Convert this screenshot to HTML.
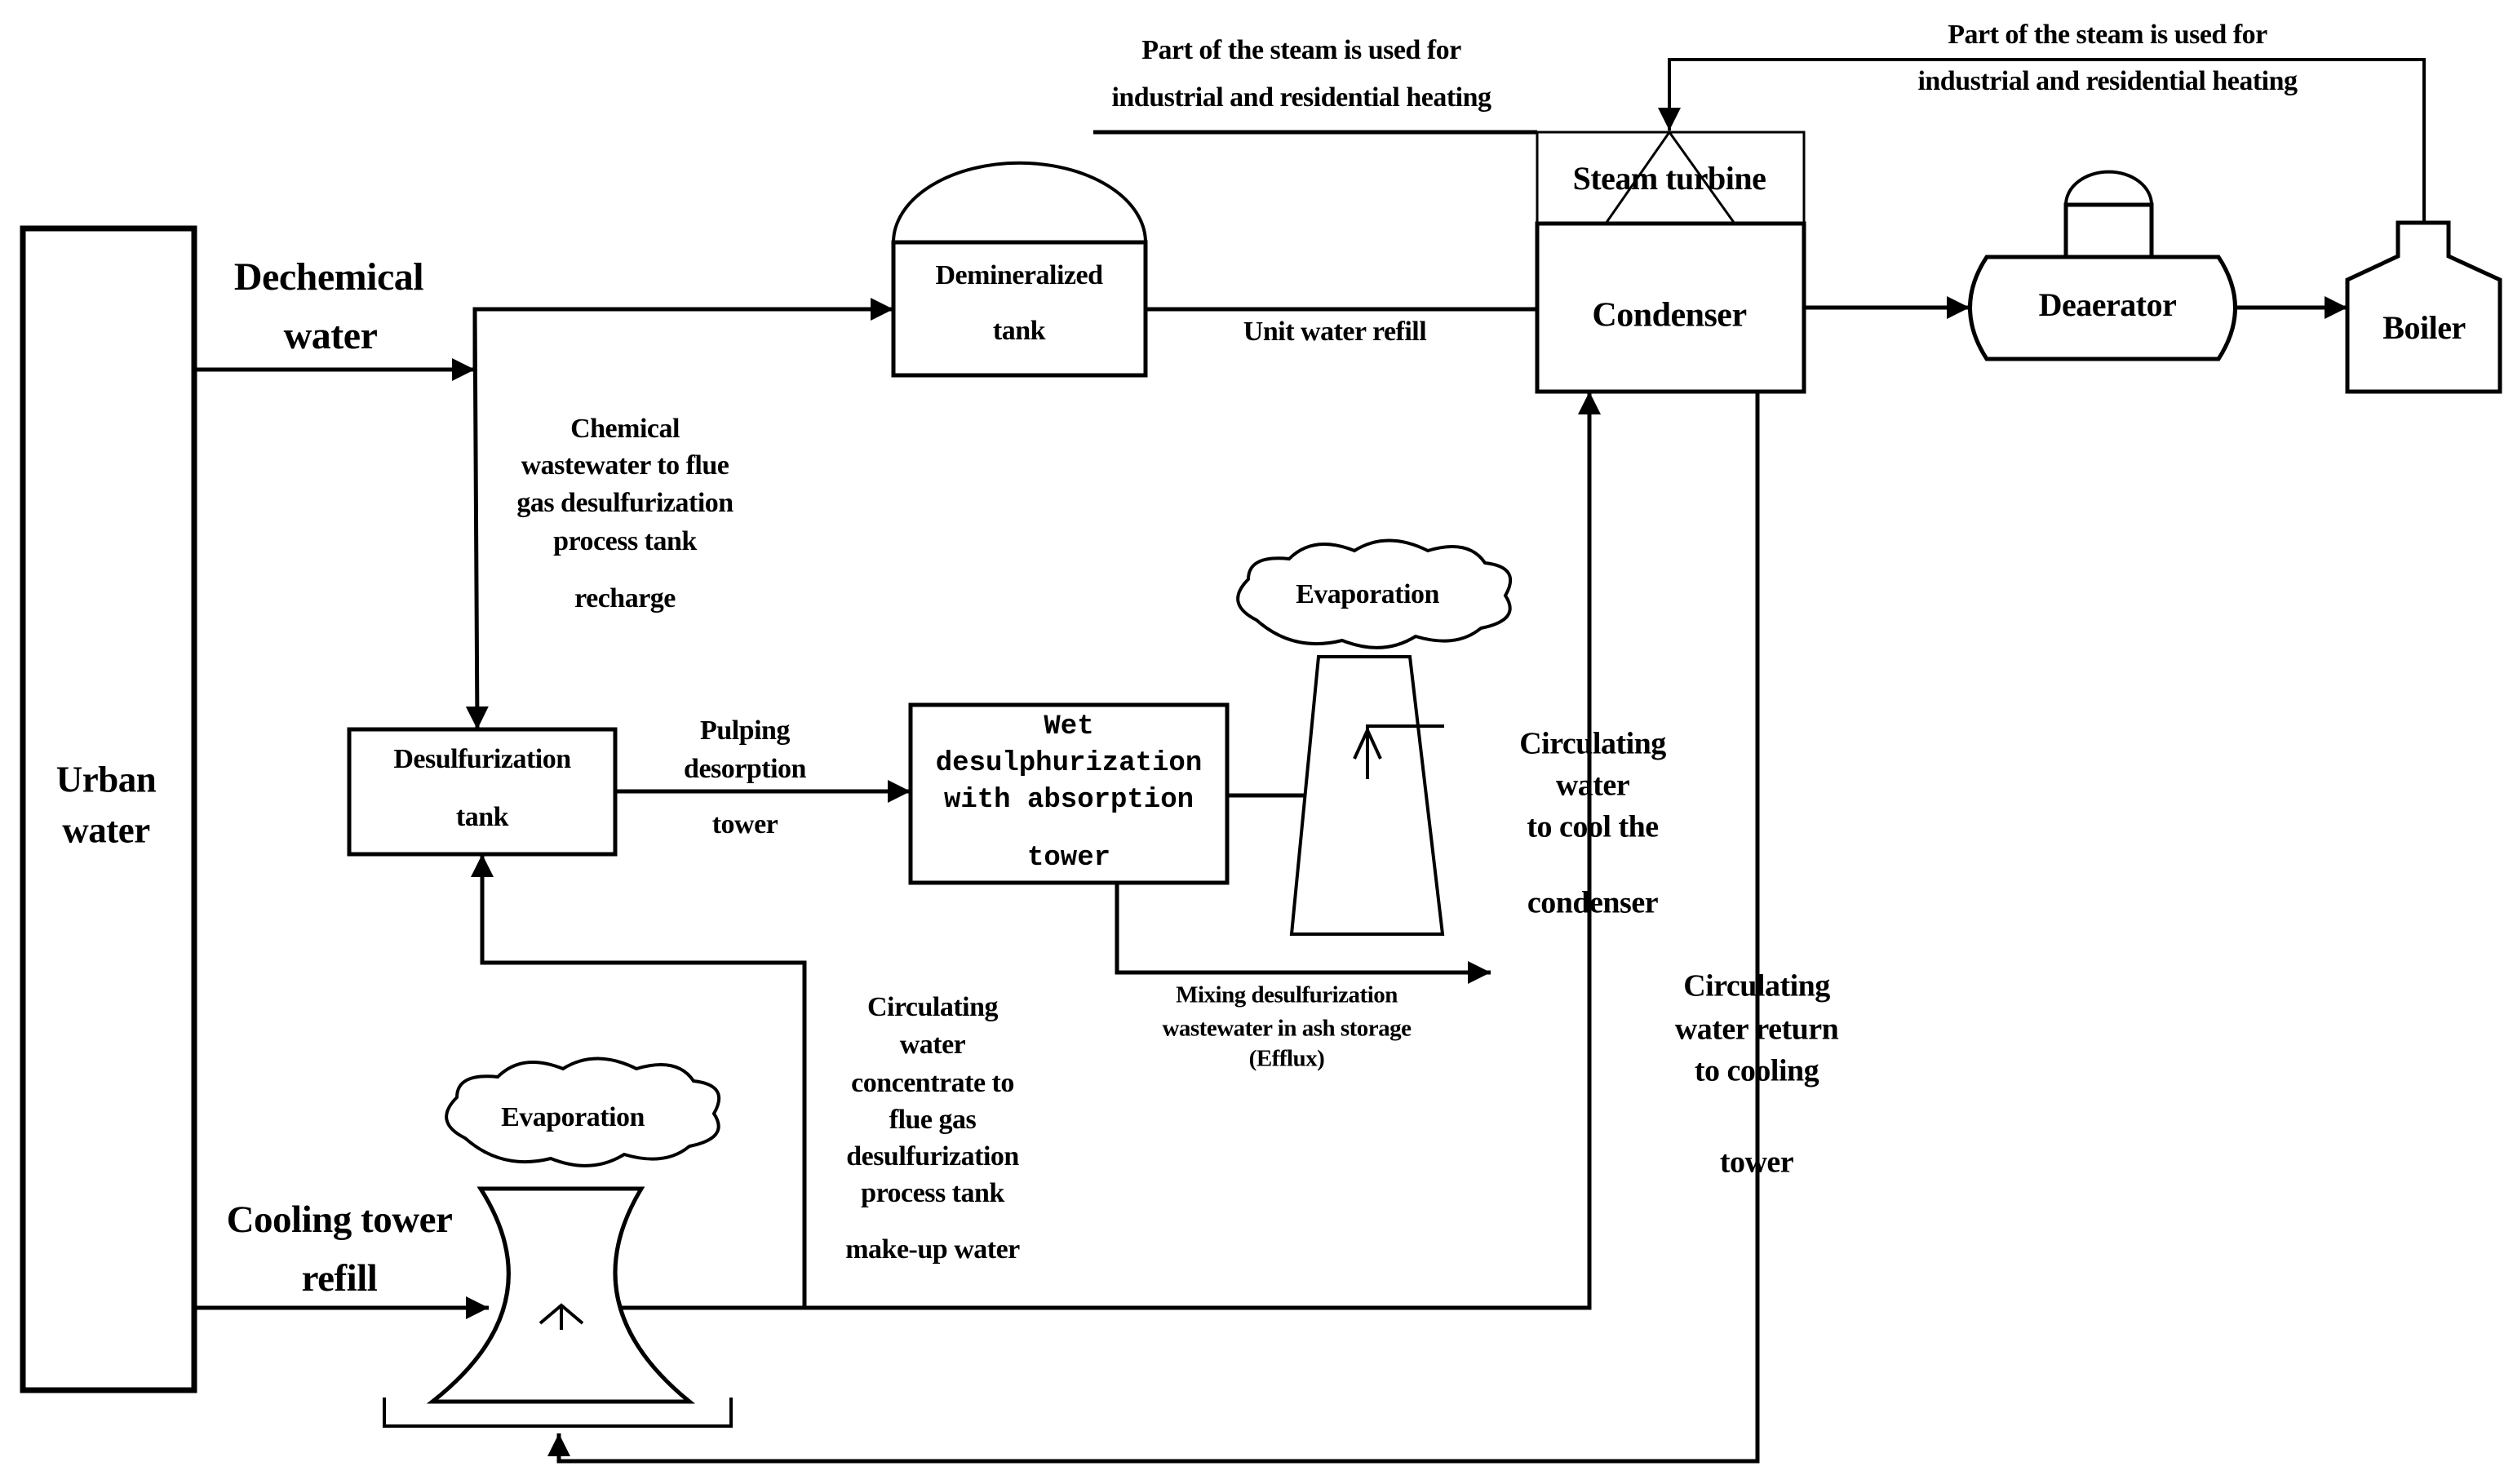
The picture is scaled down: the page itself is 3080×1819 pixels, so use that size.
<!DOCTYPE html>
<html><head><meta charset="utf-8"><style>
html,body{margin:0;padding:0;background:#fff}
svg{display:block}
text{font-family:"Liberation Serif",serif;font-weight:bold;fill:#000;text-anchor:middle;dominant-baseline:middle;letter-spacing:-0.5px}
.m{font-family:"Liberation Mono",monospace;letter-spacing:0}
</style></head><body>
<svg width="3080" height="1819" viewBox="0 0 3080 1819" xmlns="http://www.w3.org/2000/svg">
<defs>
<marker id="A" viewBox="0 0 10 10" refX="10" refY="5" markerWidth="32" markerHeight="28" orient="auto" markerUnits="userSpaceOnUse"><path d="M0,0 L10,5 L0,10 z" fill="#000"/></marker>
</defs>
<g fill="none" stroke="#000" stroke-width="5">
<rect x="28" y="280" width="210" height="1424" stroke-width="7"/>
<line x1="240" y1="453" x2="582" y2="453" marker-end="url(#A)"/>
<polyline points="582,453 582,379 1095,379" marker-end="url(#A)"/>
<line x1="582" y1="379" x2="585" y2="894" marker-end="url(#A)"/>
<rect x="1095" y="297" width="309" height="163"/>
<path d="M1095,297 A154,97 0 0 1 1404,297" stroke-width="4"/>
<line x1="1404" y1="379" x2="1884" y2="379"/>
<line x1="1340" y1="162" x2="1884" y2="162"/>
<rect x="1884" y="162" width="327" height="112" stroke-width="3"/>
<polyline points="1968,274 2046,162 2126,274" stroke-width="3"/>
<rect x="1884" y="274" width="327" height="206"/>
<polyline points="2971,273 2971,73 2046,73 2046,160" stroke-width="4" marker-end="url(#A)"/>
<line x1="2211" y1="377" x2="2414" y2="377" marker-end="url(#A)"/>
<path d="M2435,315 L2719,315 Q2760,377 2719,440 L2435,440 Q2394,377 2435,315 z"/>
<rect x="2532" y="251" width="105" height="64"/>
<path d="M2532,251 A52,40 0 0 1 2637,251" stroke-width="4"/>
<line x1="2740" y1="377" x2="2877" y2="377" marker-end="url(#A)"/>
<path d="M2939,273 L3001,273 L3001,314 L3064,343 L3064,480 L2877,480 L2877,343 L2939,314 z"/>
<rect x="428" y="894" width="326" height="153"/>
<line x1="754" y1="970" x2="1116" y2="970" marker-end="url(#A)"/>
<rect x="1116" y="864" width="388" height="218"/>
<line x1="1504" y1="975" x2="1600" y2="975"/>
<path d="M1616,805 L1728,805 L1768,1145 L1583,1145 z" stroke-width="4"/>
<polyline points="1770,890 1676,890 1676,955" stroke-width="4"/>
<polyline points="1660,930 1676,895 1692,930" stroke-width="4"/>
<polyline points="1369,1082 1369,1192 1827,1192" marker-end="url(#A)"/>
<path d="M589,1457 L786,1457 Q700,1600 845,1718 L530,1718 Q680,1600 589,1457 z" stroke-width="5"/>
<polyline points="471,1713 471,1748 896,1748 896,1713" stroke-width="4"/>
<polyline points="662,1622 688,1600 714,1622" stroke-width="4"/>
<line x1="688" y1="1600" x2="688" y2="1630" stroke-width="4"/>
<line x1="240" y1="1603" x2="599" y2="1603" marker-end="url(#A)"/>
<polyline points="760,1603 1948,1603 1948,480" marker-end="url(#A)"/>
<polyline points="986,1603 986,1180 591,1180 591,1047" marker-end="url(#A)"/>
<polyline points="2154,480 2154,1791 685,1791 685,1757" marker-end="url(#A)"/>
<path d="M1540,760 q-40,-20 -10,-50 q0,-30 50,-25 q30,-30 80,-10 q40,-25 90,0 q50,-15 70,15 q45,5 25,40 q20,30 -30,40 q-30,25 -80,10 q-40,25 -90,5 q-60,15 -105,-25z" stroke-width="4"/>
<path d="M570,1395 q-40,-20 -10,-50 q0,-30 50,-25 q30,-30 80,-10 q40,-25 90,0 q50,-15 70,15 q45,5 25,40 q20,30 -30,40 q-30,25 -80,10 q-40,25 -90,5 q-60,15 -105,-25z" stroke-width="4"/>
</g>
<g font-size="34">
<text x="130" y="960" font-size="45">Urban</text>
<text x="130" y="1022" font-size="45">water</text>
<text x="403" y="344" font-size="48">Dechemical</text>
<text x="405" y="416" font-size="48">water</text>
<text x="1595" y="64">Part of the steam is used for</text>
<text x="1595" y="122">industrial and residential heating</text>
<text x="2583" y="45">Part of the steam is used for</text>
<text x="2583" y="102">industrial and residential heating</text>
<text x="1249" y="340">Demineralized</text>
<text x="1249" y="408">tank</text>
<text x="1636" y="409">Unit water refill</text>
<text x="2046" y="223" font-size="40">Steam turbine</text>
<text x="2046" y="390" font-size="42">Condenser</text>
<text x="2583" y="378" font-size="40">Deaerator</text>
<text x="2971" y="406" font-size="40">Boiler</text>
<text x="766" y="528">Chemical</text>
<text x="766" y="573">wastewater to flue</text>
<text x="766" y="619">gas desulfurization</text>
<text x="766" y="666">process tank</text>
<text x="766" y="736">recharge</text>
<text x="591" y="933">Desulfurization</text>
<text x="591" y="1004">tank</text>
<text x="913" y="898">Pulping</text>
<text x="913" y="945">desorption</text>
<text x="913" y="1013">tower</text>
<text class="m" x="1310" y="890" font-size="34">Wet</text>
<text class="m" x="1310" y="935" font-size="34">desulphurization</text>
<text class="m" x="1310" y="980" font-size="34">with absorption</text>
<text class="m" x="1310" y="1051" font-size="34">tower</text>
<text x="1676" y="731">Evaporation</text>
<text x="702" y="1372">Evaporation</text>
<text x="1952" y="915" font-size="38">Circulating</text>
<text x="1952" y="966" font-size="38">water</text>
<text x="1952" y="1017" font-size="38">to cool the</text>
<text x="1952" y="1110" font-size="38">condenser</text>
<text x="1577" y="1222" font-size="29">Mixing desulfurization</text>
<text x="1577" y="1263" font-size="29">wastewater in ash storage</text>
<text x="1577" y="1300" font-size="29">(Efflux)</text>
<text x="2153" y="1212" font-size="38">Circulating</text>
<text x="2153" y="1265" font-size="38">water return</text>
<text x="2153" y="1316" font-size="38">to cooling</text>
<text x="2153" y="1428" font-size="38">tower</text>
<text x="1143" y="1237">Circulating</text>
<text x="1143" y="1283">water</text>
<text x="1143" y="1330">concentrate to</text>
<text x="1143" y="1375">flue gas</text>
<text x="1143" y="1420">desulfurization</text>
<text x="1143" y="1465">process tank</text>
<text x="1143" y="1534">make-up water</text>
<text x="416" y="1499" font-size="47">Cooling tower</text>
<text x="416" y="1571" font-size="47">refill</text>
</g>
<g stroke="#000" stroke-width="5">
<line x1="1948" y1="860" x2="1948" y2="1150"/>
<line x1="2154" y1="1170" x2="2154" y2="1340"/>
</g>
</svg>
</body></html>
